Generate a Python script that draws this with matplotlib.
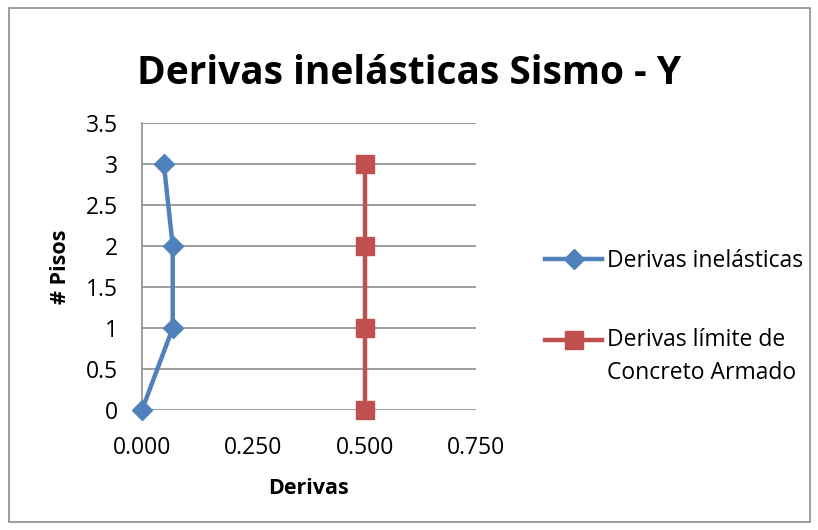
import matplotlib
matplotlib.use("Agg")
import matplotlib.pyplot as plt
from matplotlib.lines import Line2D
from matplotlib.patches import Rectangle

# datos
pisos = [0, 1, 2, 3]
derivas_inelasticas = [0.0, 0.069, 0.069, 0.049]
derivas_limite = [0.5, 0.5, 0.5, 0.5]

x_ticks = [0.0, 0.25, 0.5, 0.75]
x_labels = ["0.000", "0.250", "0.500", "0.750"]
y_ticks = [0, 0.5, 1, 1.5, 2, 2.5, 3, 3.5]
y_labels = ["0", "0.5", "1", "1.5", "2", "2.5", "3", "3.5"]

plt.rcParams['font.family'] = ['Open Sans', 'DejaVu Sans']

fig = plt.figure(figsize=(8.18, 5.30), dpi=100)
ax = fig.add_axes([0.1736, 0.2264, 0.4083, 0.5415])

blue = "#4F81BD"
red = "#C0504D"

ax.plot(derivas_inelasticas, pisos, color=blue, lw=3.2, marker="D",
        markersize=10, label="Derivas inelásticas", clip_on=False, zorder=3)
ax.plot(derivas_limite, pisos, color=red, lw=3.2, marker="s",
        markersize=12.5, label="Derivas límite de\nConcreto Armado", clip_on=False, zorder=3)

ax.set_xlim(0, 0.75)
ax.set_ylim(0, 3.5)
ax.set_xticks(x_ticks)
ax.set_xticklabels(x_labels)
ax.set_yticks(y_ticks)
ax.set_yticklabels(y_labels)
ax.tick_params(labelsize=16.5, length=0, colors="black")
ax.tick_params(axis="y", pad=17)
ax.tick_params(axis="x", pad=19)
ax.grid(axis="y", color="#8c8c8c", lw=1.2)
ax.set_axisbelow(True)
for s in ["top", "right", "bottom"]:
    ax.spines[s].set_visible(False)
ax.spines["left"].set_color("#8c8c8c")
ax.spines["left"].set_linewidth(1.2)

ax.set_xlabel("Derivas", fontsize=15.5, fontweight="bold", va="center")
ax.xaxis.set_label_coords(0.5, -0.272)
ax.set_ylabel("# Pisos", fontsize=15.5, fontweight="bold", va="center")
ax.yaxis.set_label_coords(-0.2455, 0.5)

fig.suptitle("Derivas inelásticas Sismo - Y", fontsize=28, fontweight="bold",
             x=0.5, y=0.862, va="center")

leg = ax.legend(loc="upper left", bbox_to_anchor=(1.207, 0.562), frameon=False,
                fontsize=16.5, handlelength=2.5, handletextpad=0.2, labelspacing=2.4,
                borderpad=0, borderaxespad=0)
for t in leg.get_texts():
    t.set_linespacing(1.5)

# en Excel el simbolo queda alineado con la primera linea del texto
for ln in leg.findobj(Line2D):
    if ln.get_color() == red:
        ln.set_ydata([y + 12.2 for y in ln.get_ydata()])

fig.patches.append(Rectangle((9 / 818, 8 / 530), 801 / 818, 514 / 530,
                             transform=fig.transFigure,
                             fill=False, edgecolor="#8c8c8c", lw=1.2))

fig.savefig("out.png", dpi=100)
